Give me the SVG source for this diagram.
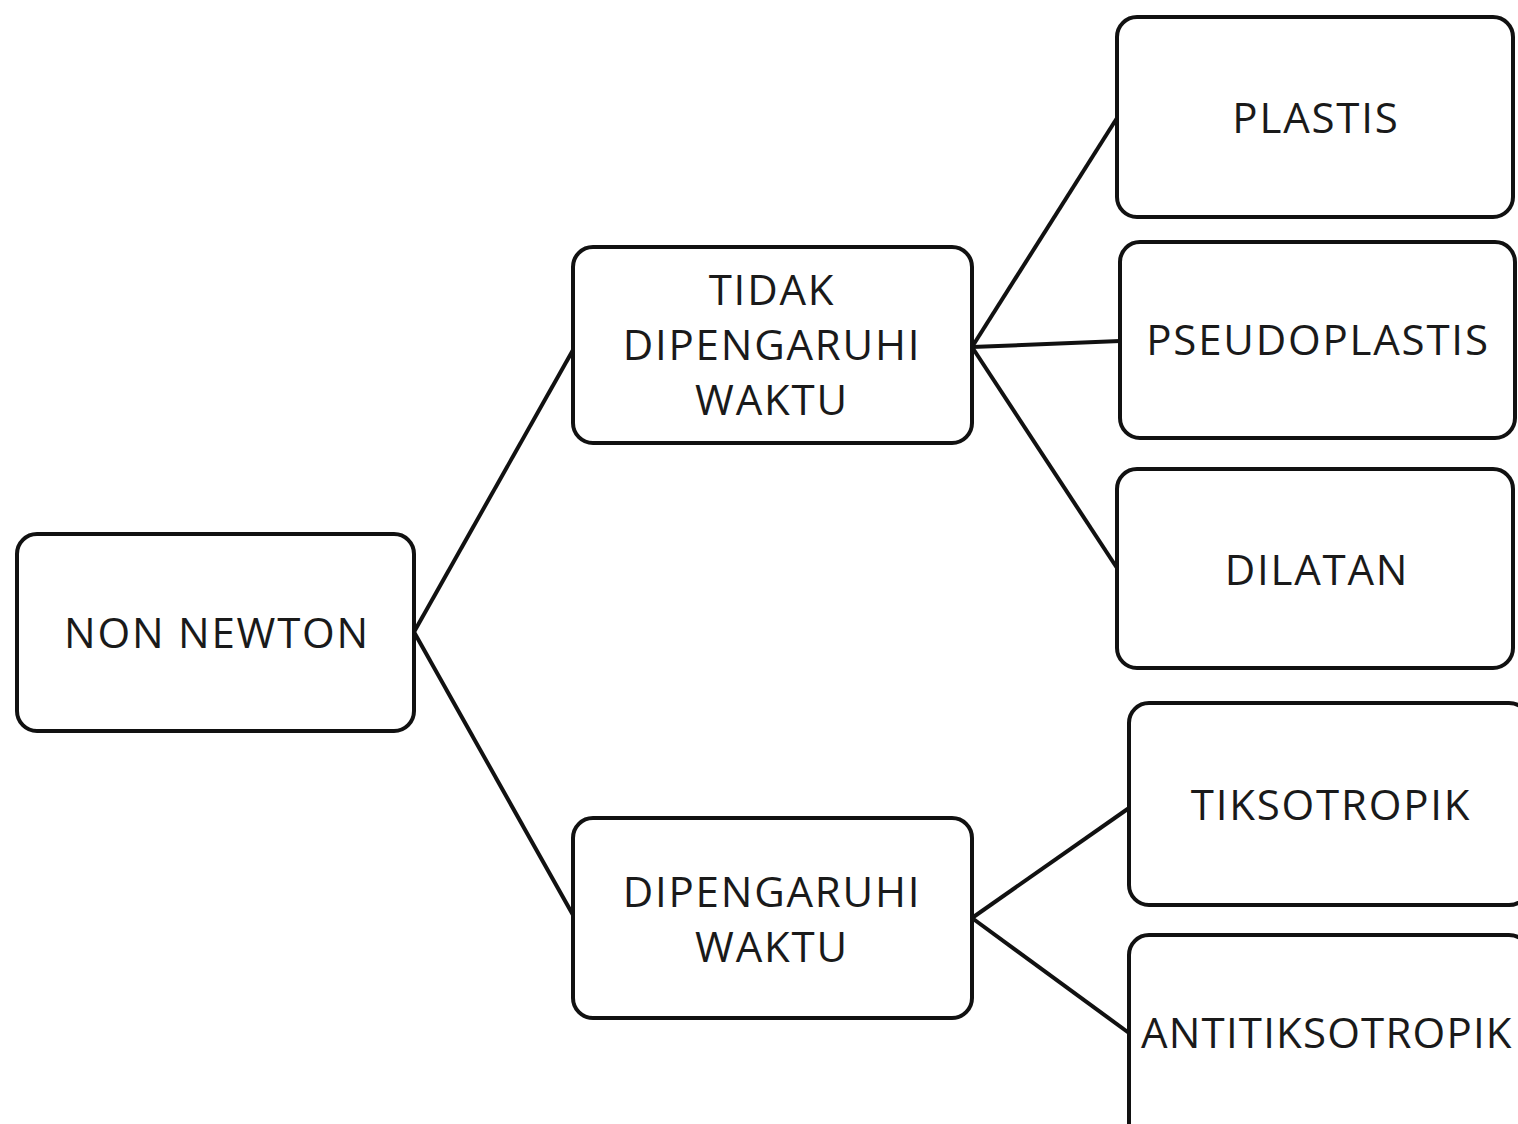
<svg xmlns="http://www.w3.org/2000/svg" width="1518" height="1124" viewBox="0 0 1518 1124">
<style>
.box{fill:#fff;stroke:#111;stroke-width:4}
.lbl{font-family:"Open Sans","Noto Sans",sans-serif;font-size:42px;letter-spacing:1.8px;fill:#1a1a1a;text-anchor:middle}
.conn{stroke:#111;stroke-width:4;fill:none}
</style>
<rect width="1518" height="1124" fill="#fff"/>
<g id="connectors">
<line class="conn" x1="414" y1="632" x2="573" y2="350"/>
<line class="conn" x1="414" y1="632" x2="573" y2="915"/>
<line class="conn" x1="972" y1="347" x2="1117" y2="118"/>
<line class="conn" x1="972" y1="347" x2="1120" y2="341"/>
<line class="conn" x1="972" y1="347" x2="1117" y2="568"/>
<line class="conn" x1="972" y1="918" x2="1129" y2="808"/>
<line class="conn" x1="972" y1="918" x2="1129" y2="1033"/>
</g>
<g id="non-newton">
<rect class="box" x="17" y="534" width="397" height="197" rx="20"/>
<text class="lbl" x="217" y="648">NON NEWTON</text>
</g>
<g id="tidak-dipengaruhi-waktu">
<rect class="box" x="573" y="247" width="399" height="196" rx="20"/>
<text class="lbl" x="772" y="305">TIDAK</text>
<text class="lbl" x="772" y="360">DIPENGARUHI</text>
<text class="lbl" x="772" y="415">WAKTU</text>
</g>
<g id="dipengaruhi-waktu">
<rect class="box" x="573" y="818" width="399" height="200" rx="20"/>
<text class="lbl" x="772" y="907">DIPENGARUHI</text>
<text class="lbl" x="772" y="962">WAKTU</text>
</g>
<g id="plastis">
<rect class="box" x="1117" y="17" width="396" height="200" rx="20"/>
<text class="lbl" x="1316" y="133">PLASTIS</text>
</g>
<g id="pseudoplastis">
<rect class="box" x="1120" y="242" width="395" height="196" rx="20"/>
<text class="lbl" x="1318" y="355">PSEUDOPLASTIS</text>
</g>
<g id="dilatan">
<rect class="box" x="1117" y="469" width="396" height="199" rx="20"/>
<text class="lbl" x="1317" y="585">DILATAN</text>
</g>
<g id="tiksotropik">
<rect class="box" x="1129" y="703" width="400" height="202" rx="20"/>
<text class="lbl" x="1331" y="820">TIKSOTROPIK</text>
</g>
<g id="antitiksotropik">
<rect class="box" x="1129" y="935" width="400" height="210" rx="20"/>
<text class="lbl" x="1141" y="1048" style="text-anchor:start;letter-spacing:1.2px">ANTITIKSOTROPIK</text>
</g>
</svg>
